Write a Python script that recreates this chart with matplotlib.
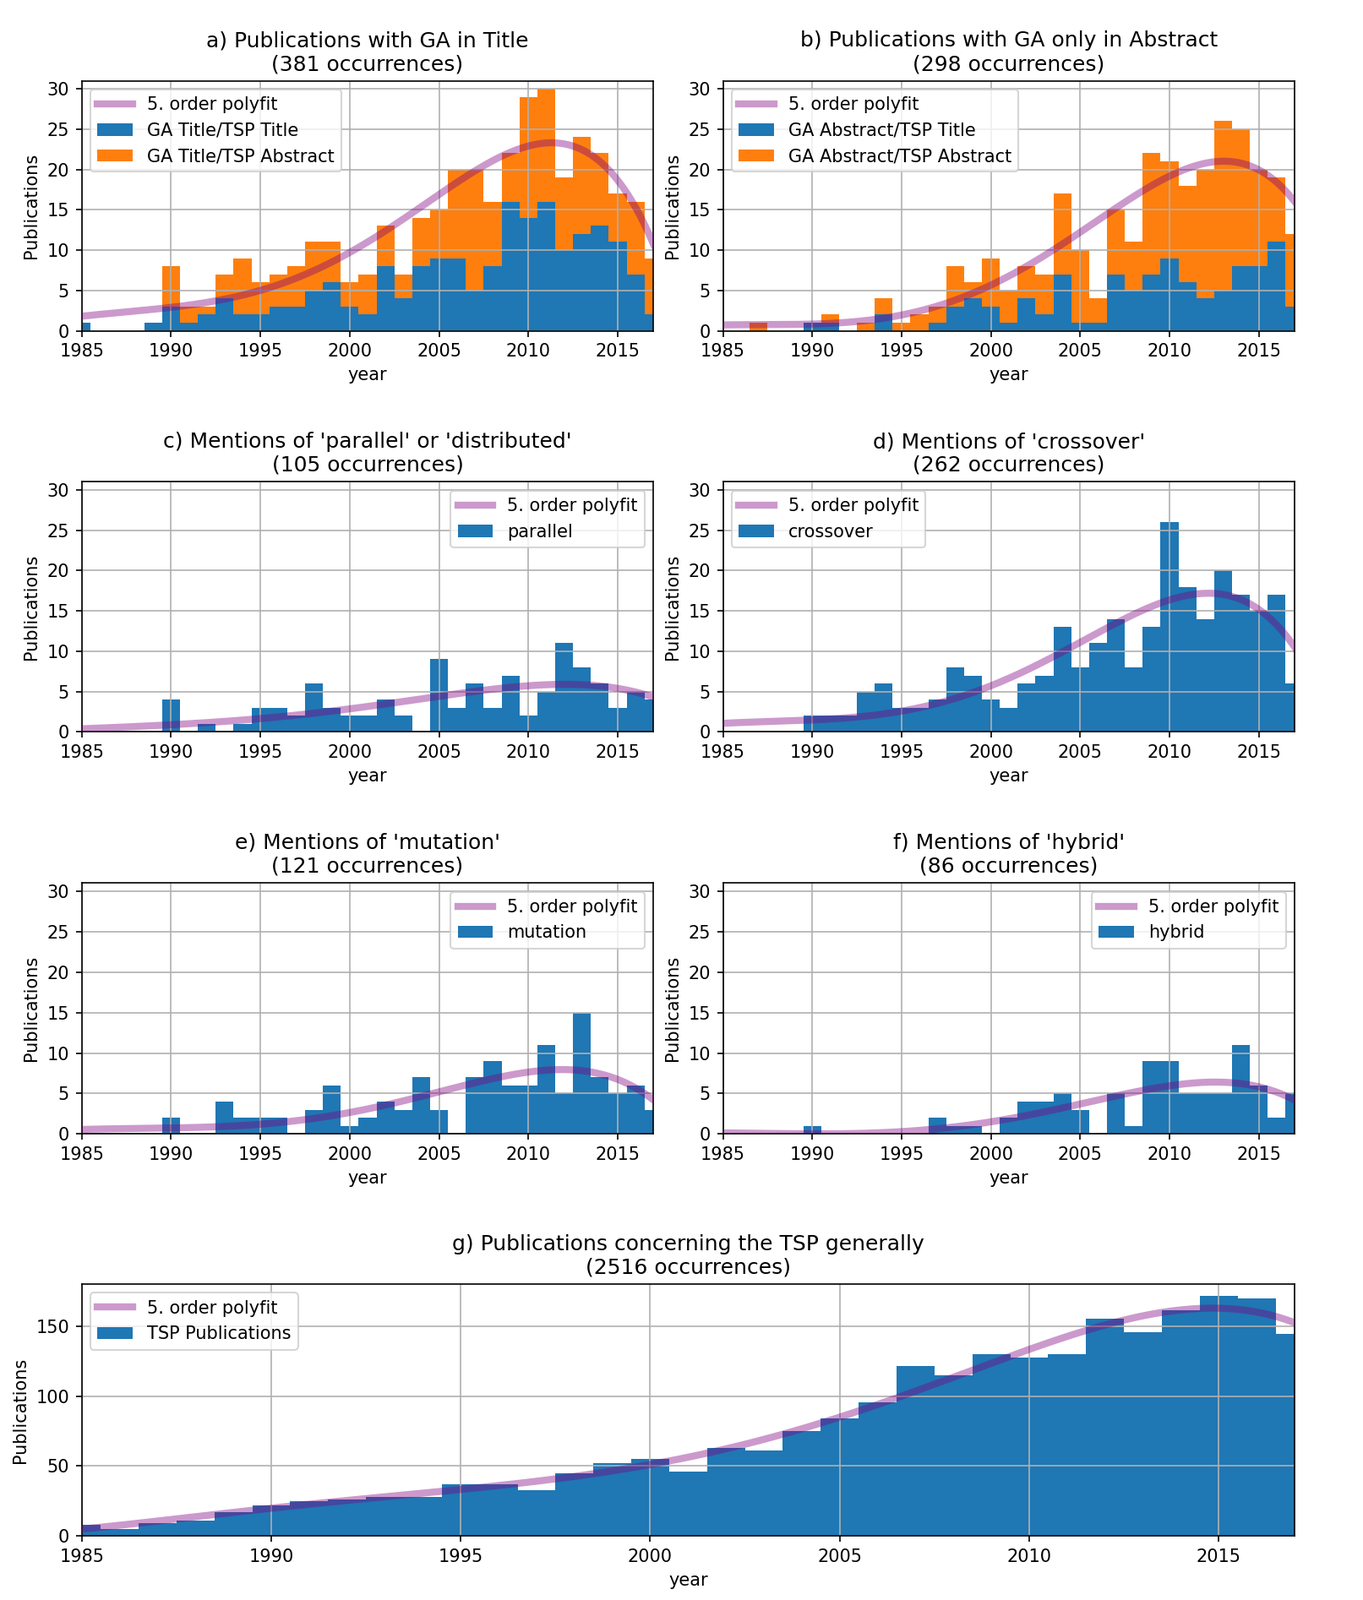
import numpy as np
import matplotlib
matplotlib.use("Agg")
import matplotlib.pyplot as plt

years = np.arange(1985, 2018)

# a) GA in title
ga_title_tsp_title = [1, 0, 0, 0, 1, 3, 1, 2, 4, 2, 2, 3, 3, 5, 6, 3, 2, 8, 4, 8, 9, 9,
                      5, 8, 16, 14, 16, 10, 12, 13, 11, 7, 2]
ga_title_tsp_abstract = [0, 0, 0, 0, 0, 5, 2, 1, 3, 7, 4, 4, 5, 6, 5, 3, 5, 5, 3, 6, 6, 11,
                         15, 8, 6, 15, 14, 9, 12, 9, 6, 9, 7]

# b) GA only in abstract
ga_abs_tsp_title = [0, 0, 0, 0, 0, 1, 1, 0, 0, 2, 0, 0, 1, 3, 4, 3, 1, 4, 2, 7, 1, 1,
                    7, 5, 7, 9, 6, 4, 5, 8, 8, 11, 3]
ga_abs_tsp_abstract = [0, 0, 1, 0, 0, 0, 1, 0, 1, 2, 1, 2, 2, 5, 2, 6, 4, 4, 5, 10, 9, 3,
                       8, 6, 15, 12, 12, 16, 21, 17, 12, 8, 9]

# c) - f) keyword mentions
parallel = [0, 0, 0, 0, 0, 4, 0, 1, 0, 1, 3, 3, 2, 6, 3, 2, 2, 4, 2, 0, 9, 3,
            6, 3, 7, 2, 5, 11, 8, 6, 3, 5, 4]
crossover = [0, 0, 0, 0, 0, 2, 2, 2, 5, 6, 3, 3, 4, 8, 7, 4, 3, 6, 7, 13, 8, 11,
             14, 8, 13, 26, 18, 14, 20, 17, 15, 17, 6]
mutation = [0, 0, 0, 0, 0, 2, 0, 0, 4, 2, 2, 2, 0, 3, 6, 1, 2, 4, 3, 7, 3, 0,
            7, 9, 6, 6, 11, 5, 15, 7, 5, 6, 3]
hybrid = [0, 0, 0, 0, 0, 1, 0, 0, 0, 0, 0, 0, 2, 1, 1, 0, 2, 4, 4, 5, 3, 0,
          5, 1, 9, 9, 5, 5, 5, 11, 6, 2, 5]

# g) all TSP publications (only the shown years are known)
tsp_all = [8, 5, 9, 11, 17, 22, 25, 26, 28, 28, 37, 37, 33, 45, 52, 55, 46, 63, 61, 75,
           84, 96, 122, 115, 130, 128, 130, 156, 146, 162, 172, 170, 145]

# keyword counts have no hits before 1985, fit runs from here
FIT_START = 1970

fig = plt.figure(figsize=(1613 / 150, 1894 / 150), dpi=150)

W, H = 1613.0, 1894.0


def rect(x0, y0, x1, y1):
    # pixel box -> figure fraction
    return [x0 / W, 1 - y1 / H, (x1 - x0) / W, (y1 - y0) / H]


def polyfit_line(ax, counts, pad=True):
    if pad:
        fy = np.arange(FIT_START, years[-1] + 1)
        fc = np.concatenate([np.zeros(years[0] - FIT_START), counts])
    else:
        fy, fc = years, counts
    coef = np.polyfit(fy, fc, 5)
    xs = np.linspace(years[0], years[-1], 300)
    line, = ax.plot(xs, np.polyval(coef, xs), color="purple", alpha=0.4,
                    linewidth=4, label="5. order polyfit", zorder=3)
    return line


def panel(ax, title, series, labels, loc, ymax=31, yticks=range(0, 31, 5), pad=True):
    total = np.sum(series, axis=0)
    line = polyfit_line(ax, total, pad)
    handles = [line]
    bottom = np.zeros(len(years))
    for vals, lab, col in zip(series, labels, ["C0", "C1"]):
        b = ax.bar(years, vals, width=1.0, bottom=bottom, color=col,
                   linewidth=0, label=lab)
        bottom = bottom + np.array(vals)
        handles.append(b)
    ax.set_xlim(1985, 2017)
    ax.set_ylim(0, ymax)
    ax.set_xticks([1985, 1990, 1995, 2000, 2005, 2010, 2015])
    ax.set_yticks(list(yticks))
    ax.grid(True)
    ax.set_title(title, fontsize=12)
    ax.set_xlabel("year")
    ax.set_ylabel("Publications")
    ax.legend(handles=handles, loc=loc)


ax_a = fig.add_axes(rect(96.7, 95.5, 773.3, 391.5))
panel(ax_a, "a) Publications with GA in Title\n(381 occurrences)",
      [ga_title_tsp_title, ga_title_tsp_abstract],
      ["GA Title/TSP Title", "GA Title/TSP Abstract"], "upper left")

ax_b = fig.add_axes(rect(855.5, 95.5, 1532, 391.5))
panel(ax_b, "b) Publications with GA only in Abstract\n(298 occurrences)",
      [ga_abs_tsp_title, ga_abs_tsp_abstract],
      ["GA Abstract/TSP Title", "GA Abstract/TSP Abstract"], "upper left")

ax_c = fig.add_axes(rect(96.7, 570.4, 773.3, 866.4))
panel(ax_c, "c) Mentions of 'parallel' or 'distributed'\n(105 occurrences)",
      [parallel], ["parallel"], "upper right")

ax_d = fig.add_axes(rect(855.5, 570.4, 1532, 866.4))
panel(ax_d, "d) Mentions of 'crossover'\n(262 occurrences)",
      [crossover], ["crossover"], "upper left")

ax_e = fig.add_axes(rect(96.7, 1045.3, 773.3, 1342.4))
panel(ax_e, "e) Mentions of 'mutation'\n(121 occurrences)",
      [mutation], ["mutation"], "upper right")

ax_f = fig.add_axes(rect(855.5, 1045.3, 1532, 1342.4))
panel(ax_f, "f) Mentions of 'hybrid'\n(86 occurrences)",
      [hybrid], ["hybrid"], "upper right")

ax_g = fig.add_axes(rect(96.7, 1520, 1532, 1818))
panel(ax_g, "g) Publications concerning the TSP generally\n(2516 occurrences)",
      [tsp_all], ["TSP Publications"], "upper left", ymax=180.6,
      yticks=range(0, 151, 50), pad=False)

fig.savefig("out.png", dpi=150)
